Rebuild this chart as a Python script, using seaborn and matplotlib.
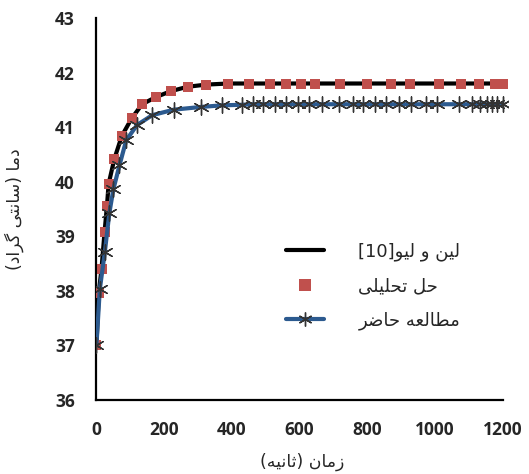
import re
import matplotlib
matplotlib.use("Agg")
import matplotlib.pyplot as plt
from matplotlib.lines import Line2D
import seaborn as sns

# analytical solution (red squares), also traced by the Lin & Liu line
t_analytic = [0, 7, 15, 24, 31, 36, 53, 75, 104, 135, 175, 220, 269, 324, 390,
              451, 512, 560, 604, 646, 719, 800, 869, 927, 1012, 1078, 1130, 1177, 1200]
temp_analytic = [37.0, 37.97, 38.4, 39.08, 39.55, 39.96, 40.42, 40.84, 41.16, 41.42,
                 41.55, 41.66, 41.74, 41.78, 41.8, 41.8, 41.8, 41.8, 41.8, 41.8,
                 41.8, 41.8, 41.8, 41.8, 41.8, 41.8, 41.8, 41.8, 41.8]

# present study (blue line + asterisks)
t_present = [0, 10, 25, 38, 50, 68, 88, 120, 165, 228, 308, 371, 429, 463, 492, 526,
             560, 594, 628, 667, 716, 759, 788, 822, 856, 895, 929, 973, 1007, 1070,
             1109, 1133, 1153, 1167, 1182, 1200]
temp_present = [37.0, 38.03, 38.72, 39.42, 39.86, 40.3, 40.76, 41.04, 41.22, 41.32,
                41.37, 41.4, 41.41, 41.42, 41.42, 41.42, 41.42, 41.42, 41.42, 41.42,
                41.42, 41.42, 41.42, 41.42, 41.42, 41.42, 41.42, 41.42, 41.42, 41.42,
                41.42, 41.42, 41.42, 41.42, 41.42, 41.42]

x_ticks = [0, 200, 400, 600, 800, 1000, 1200]
y_ticks = [36, 37, 38, 39, 40, 41, 42, 43]

labels = ["لین و لیو[10]", "حل تحلیلی", "مطالعه حاضر"]
x_label = "زمان (ثانیه)"
y_label = "دما (سانتی گراد)"

# tiny Persian shaper: contextual forms + visual (LTR) order for matplotlib
FORMS = {
    "ا": ("\uFE8D", "\uFE8E", None, None),
    "ت": ("\uFE95", "\uFE96", "\uFE97", "\uFE98"),
    "ث": ("\uFE99", "\uFE9A", "\uFE9B", "\uFE9C"),
    "ح": ("\uFEA1", "\uFEA2", "\uFEA3", "\uFEA4"),
    "د": ("\uFEA9", "\uFEAA", None, None),
    "ر": ("\uFEAD", "\uFEAE", None, None),
    "ز": ("\uFEAF", "\uFEB0", None, None),
    "س": ("\uFEB1", "\uFEB2", "\uFEB3", "\uFEB4"),
    "ض": ("\uFEBD", "\uFEBE", "\uFEBF", "\uFEC0"),
    "ط": ("\uFEC1", "\uFEC2", "\uFEC3", "\uFEC4"),
    "ع": ("\uFEC9", "\uFECA", "\uFECB", "\uFECC"),
    "ل": ("\uFEDD", "\uFEDE", "\uFEDF", "\uFEE0"),
    "م": ("\uFEE1", "\uFEE2", "\uFEE3", "\uFEE4"),
    "ن": ("\uFEE5", "\uFEE6", "\uFEE7", "\uFEE8"),
    "ه": ("\uFEE9", "\uFEEA", "\uFEEB", "\uFEEC"),
    "و": ("\uFEED", "\uFEEE", None, None),
    "ی": ("\uFBFC", "\uFBFD", "\uFBFE", "\uFBFF"),
    "گ": ("\uFB92", "\uFB93", "\uFB94", "\uFB95"),
}


def fa(text):
    out = []
    for i, ch in enumerate(text):
        if ch not in FORMS:
            out.append(ch)
            continue
        prev = text[i - 1] if i > 0 else ""
        nxt = text[i + 1] if i + 1 < len(text) else ""
        join_prev = prev in FORMS and FORMS[prev][2] is not None
        join_next = FORMS[ch][2] is not None and nxt in FORMS
        iso, fin, ini, med = FORMS[ch]
        out.append(med if join_prev and join_next else fin if join_prev
                   else ini if join_next else iso)
    vis = "".join(reversed(out))
    vis = re.sub(r"[0-9]+", lambda m: m.group(0)[::-1], vis)
    return vis.translate(str.maketrans("()[]", ")(]["))


sns.set_style("white")
plt.rcParams["font.family"] = ["DejaVu Sans"]

fig = plt.figure(figsize=(5.29, 4.74), dpi=100)
ax = fig.add_axes([0.181, 0.156, 0.779, 0.806])

red = "#c0504d"
blue = "#2c5a8f"

sns.lineplot(x=t_analytic, y=temp_analytic, ax=ax, color="black", lw=3,
             sort=False, estimator=None, zorder=2)
sns.scatterplot(x=t_analytic, y=temp_analytic, ax=ax, color=red, marker="s",
                s=60, linewidth=0, zorder=3)
sns.lineplot(x=t_present, y=temp_present, ax=ax, color=blue, lw=3,
             sort=False, estimator=None, zorder=4)
ax.scatter(t_present, temp_present, marker=(6, 2, 0), s=120, color="#333333",
           linewidths=1.0, zorder=5)

ax.set_xlim(-2, 1215)
ax.set_ylim(36, 43)
ax.set_xticks(x_ticks)
ax.set_yticks(y_ticks)
for spine in ["top", "right"]:
    ax.spines[spine].set_visible(False)
for spine in ["left", "bottom"]:
    ax.spines[spine].set_linewidth(1.6)
    ax.spines[spine].set_color("black")
ax.spines["bottom"].set_bounds(0, 1200)
ax.tick_params(axis="both", direction="out", length=5, width=1.6, color="black",
               labelsize=12.5)
ax.tick_params(axis="y", pad=10)
ax.tick_params(axis="x", pad=10)
for lab in ax.get_xticklabels() + ax.get_yticklabels():
    lab.set_fontweight("bold")
    lab.set_family(["Open Sans", "DejaVu Sans"])

ax.set_xlabel(fa(x_label), fontsize=12.5, labelpad=10)
ax.set_ylabel(fa(y_label), fontsize=12.5, labelpad=22)

handles = [
    Line2D([], [], color="black", lw=3),
    Line2D([], [], color=red, marker="s", ls="none", markersize=8, markeredgewidth=0),
    Line2D([], [], color=blue, lw=3, marker=(6, 2, 0), markersize=10,
           markeredgecolor="#333333", markerfacecolor="#333333"),
]
ax.legend(handles, [fa(s) for s in labels], loc="center left",
          bbox_to_anchor=(0.44, 0.298), frameon=False, fontsize=13,
          handlelength=2.1, handletextpad=1.9, labelspacing=0.9, borderpad=0)

fig.savefig("out.png", dpi=100)
